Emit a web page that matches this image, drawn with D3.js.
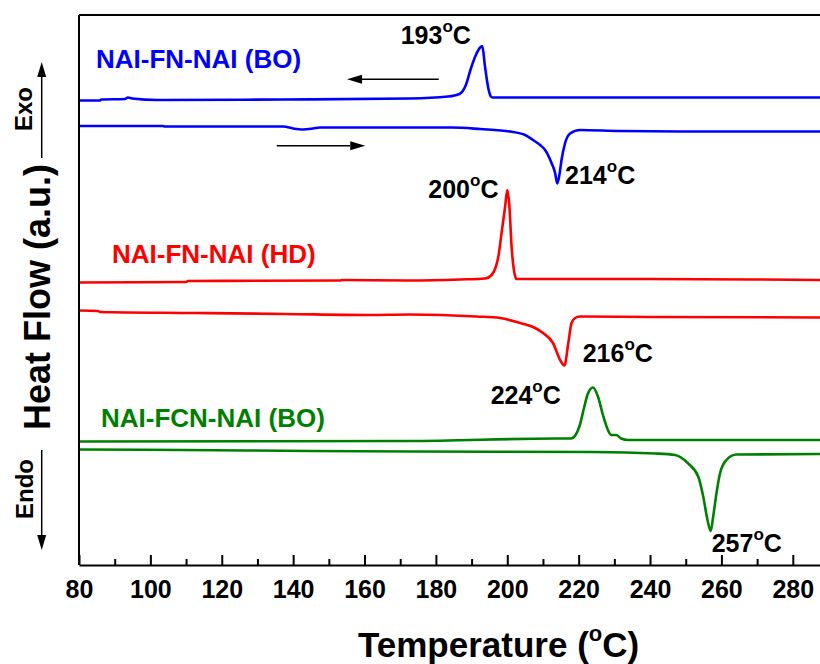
<!DOCTYPE html>
<html>
<head>
<meta charset="utf-8">
<script src="https://cdn.jsdelivr.net/npm/d3@7"></script>
<style>
  html, body { margin: 0; padding: 0; background: #fff; }
  svg { display: block; font-family: "Liberation Sans", Arial, Helvetica, sans-serif; font-weight: bold; }
</style>
</head>
<body>
<svg id="chart" width="820" height="664"></svg>
<script>
// Temperature axis ticks (°C)
const majorTicks = [80, 100, 120, 140, 160, 180, 200, 220, 240, 260, 280];
const minorTicks = [90, 110, 130, 150, 170, 190, 210, 230, 250, 270];

// DSC traces as [temperature (°C), heat flow (a.u.)]; cooling scan above heating scan for each compound
const coolBO = [[80,92.9],[85.9,92.9],[86.2,93.1],[92.9,93.2],[93.7,93.5],[94.9,93.3],[101.9,93.0],[137.2,93.1],
  [172.7,93.3],[183.4,93.7],[186.6,94.2],[188.4,96.0],[189.8,99.3],[191.2,102.0],[192.4,103.5],[193,103.8],
  [193.7,100.0],[194.7,95.3],[195.4,93.7],[195.9,93.5],[226,93.5],[290,93.5]];
const heatBO = [[80,87.8],[103.5,87.8],[104.1,87.7],[137.2,87.7],[140,87.3],[142.8,87.1],[145.6,87.3],[147.5,87.5],
  [184.5,87.5],[192.4,87.2],[200.8,86.7],[205,86.0],[207.2,85.0],[209.2,84.0],[210.6,83.0],[212.4,80.4],
  [213.4,78.4],[214,76.3],[214.6,78.0],[215.2,81.0],[216.2,84.4],[217.6,86.3],[220.4,87.0],[231.6,86.8],
  [254,86.7],[290,86.7]];
const coolHD = [[80,56.5],[110,56.6],[110.5,56.8],[153.1,56.9],[153.7,57.0],[172.7,56.9],[186.8,57.1],[193.8,57.3],
  [195.6,58.0],[197.5,61.7],[198.4,66.4],[199.4,71.7],[200,75.0],[200.6,71.7],[201.2,63.7],[202,58.4],
  [202.6,57.2],[226,57.2],[269,57.1],[290,57.0]];
const heatHD = [[80,50.9],[85.3,50.8],[85.9,50.6],[112.8,50.4],[137.7,50.2],[161,50.0],[172.7,50.1],[191.4,49.7],
  [198,49.4],[203.6,48.4],[207.8,47.4],[210,46.4],[212.8,44.4],[214.8,41.0],[216,39.9],[217.1,44.4],
  [218,48.4],[219,49.4],[220.4,49.7],[240,49.6],[290,49.5]];
const coolFCN = [[80,24.7],[172.7,24.8],[213.8,25.3],[217.9,25.3],[220.2,27.7],[221.6,31.7],[222.6,34.3],[224,35.5],
  [225.4,33.7],[226.8,30.0],[228.2,27.0],[229.1,26.0],[230.5,26.0],[231.9,25.3],[233.8,25.0],[290,25.0]];
const heatFCN = [[80,23.1],[109.1,23.0],[144.7,22.8],[172.7,22.7],[224,22.6],[241.4,22.3],[247,22.0],[250.7,20.3],
  [253.5,17.7],[254.9,13.7],[256.1,9.0],[257,6.8],[257.7,9.7],[258.6,14.3],[259.6,18.3],[261.4,21.0],
  [264.2,22.1],[290,22.2]];

const seriesNames = ["NAI-FN-NAI (BO)", "NAI-FN-NAI (HD)", "NAI-FCN-NAI (BO)"];

// Peak / trough temperatures annotated on the traces
const peakTemps = [193, 214, 200, 216, 224, 257];

// ---- drawing ----
const svg = d3.select("#chart");
const plotLeft = 79, plotTop = 15, plotBottom = 565;

const x = d3.scaleLinear().domain([80, 290]).range([plotLeft, plotLeft + 210 * 3.569]);
const y = d3.scaleLinear().domain([0, 110]).range([plotBottom, plotTop]);

const colors = ["#0000ff", "#ff0000", "#008000"];
const traces = [
  { data: coolBO, color: colors[0] }, { data: heatBO, color: colors[0] },
  { data: coolHD, color: colors[1] }, { data: heatHD, color: colors[1] },
  { data: coolFCN, color: colors[2] }, { data: heatFCN, color: colors[2] }
];

svg.append("defs").append("clipPath").attr("id", "plot-clip")
  .append("rect").attr("x", plotLeft).attr("y", plotTop)
  .attr("width", 820 - plotLeft).attr("height", plotBottom - plotTop);

const line = d3.line().x(d => x(d[0])).y(d => y(d[1])).curve(d3.curveMonotoneX);

svg.append("g").attr("clip-path", "url(#plot-clip)")
  .selectAll("path").data(traces).join("path")
  .attr("d", d => line(d.data))
  .attr("fill", "none")
  .attr("stroke", d => d.color)
  .attr("stroke-width", 2.6)
  .attr("stroke-linejoin", "round");

// Frame: left axis line and top border
svg.append("line").attr("x1", plotLeft).attr("x2", plotLeft).attr("y1", plotTop).attr("y2", plotBottom)
  .attr("stroke", "#000").attr("stroke-width", 2);
svg.append("line").attr("x1", plotLeft).attr("x2", x(290)).attr("y1", plotTop).attr("y2", plotTop)
  .attr("stroke", "#000").attr("stroke-width", 2);

// Bottom axis with inward ticks
const xAxis = svg.append("g").attr("transform", `translate(0,${plotBottom})`)
  .call(d3.axisBottom(x).tickValues(majorTicks).tickSizeInner(-10).tickSizeOuter(0).tickPadding(15));
xAxis.select(".domain").attr("stroke-width", 2);
xAxis.selectAll(".tick line").attr("stroke-width", 2);
xAxis.selectAll(".tick text").attr("font-size", 25).attr("font-weight", "bold")
  .attr("font-family", '"Liberation Sans", Arial, sans-serif').attr("fill", "#000");

const xMinor = svg.append("g").attr("transform", `translate(0,${plotBottom})`)
  .call(d3.axisBottom(x).tickValues(minorTicks).tickSize(-6).tickFormat(""));
xMinor.select(".domain").remove();
xMinor.selectAll(".tick line").attr("stroke-width", 2);

// Text with a raised "o" as the degree sign
function degreeText(g, prefix, suffix, size, supSize, rise) {
  const t = g.append("text").attr("font-size", size).attr("fill", "#000");
  t.append("tspan").text(prefix);
  t.append("tspan").attr("font-size", supSize).attr("dy", -rise).text("o");
  t.append("tspan").attr("dy", rise).text(suffix);
  return t;
}

// Axis titles
degreeText(svg, "Temperature (", "C)", 35, 22, 16).attr("x", 358).attr("y", 657);
svg.append("text").attr("transform", "translate(50,297) rotate(-90)")
  .attr("text-anchor", "middle").attr("font-size", 36).text("Heat Flow (a.u.)");

// Exo / Endo direction markers
svg.append("text").attr("transform", "translate(32,109) rotate(-90)")
  .attr("text-anchor", "middle").attr("font-size", 24).text("Exo");
svg.append("text").attr("transform", "translate(33,489) rotate(-90)")
  .attr("text-anchor", "middle").attr("font-size", 24).text("Endo");

function arrow(x1, y1, x2, y2) {
  const ang = Math.atan2(y2 - y1, x2 - x1), len = 15, hw = 4.5;
  const bx = x2 - len * Math.cos(ang), by = y2 - len * Math.sin(ang);
  svg.append("line").attr("x1", x1).attr("y1", y1).attr("x2", bx).attr("y2", by)
    .attr("stroke", "#000").attr("stroke-width", 1.5);
  const px = -Math.sin(ang) * hw, py = Math.cos(ang) * hw;
  svg.append("polygon")
    .attr("points", `${x2},${y2} ${bx + px},${by + py} ${bx - px},${by - py}`)
    .attr("fill", "#000");
}
arrow(41.7, 158, 41.7, 62);
arrow(41.7, 450, 41.7, 550);
// scan-direction arrows: cooling (leftward) and heating (rightward)
arrow(x(180.8), 79.3, x(155.1), 79.3);
arrow(x(135.4), 145.7, x(160.2), 145.7);

// Compound labels
const nameLabels = [
  { name: seriesNames[0], color: colors[0], px: 96, py: 68.3 },
  { name: seriesNames[1], color: colors[1], px: 112, py: 262.7 },
  { name: seriesNames[2], color: colors[2], px: 101, py: 426.7 }
];
nameLabels.forEach(d => {
  svg.append("text").attr("x", d.px).attr("y", d.py).attr("font-size", 26)
    .attr("fill", d.color).text(d.name);
});

// Peak temperature labels, placed relative to each extremum of its trace
const peakTraces = [coolBO, heatBO, coolHD, heatHD, coolFCN, heatFCN];
const labelOffsets = [[-81.6, -1.7], [7.8, 0], [-79, 8.3], [18.3, -3.5], [-102.3, 16.5], [1, 21.3]];
peakTemps.forEach((t, i) => {
  const pt = peakTraces[i].find(p => p[0] === t);
  const [dx, dy] = labelOffsets[i];
  degreeText(svg, String(t), "C", 25, 17, 12)
    .attr("x", x(t) + dx).attr("y", y(pt[1]) + dy);
});
</script>
</body>
</html>
